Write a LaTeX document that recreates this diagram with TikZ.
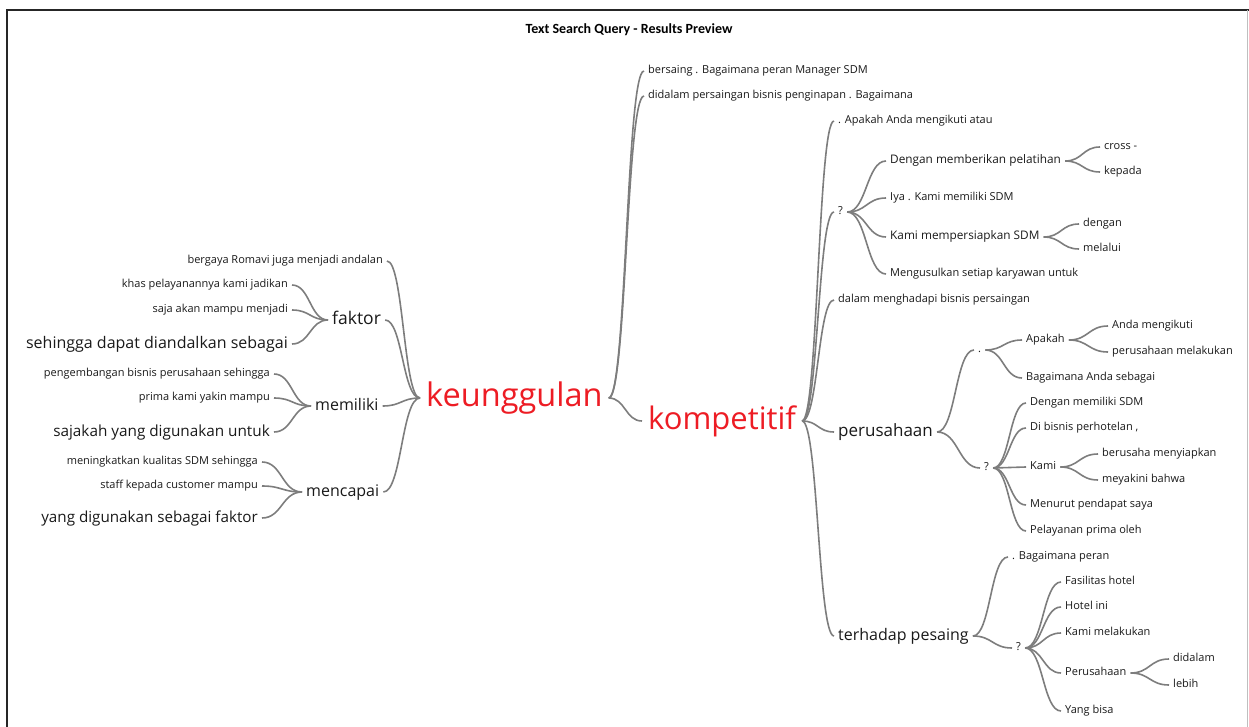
\documentclass[tikz,border=0pt]{standalone}
\usepackage{fontspec}
\setmainfont{Open Sans}
\newfontfamily\headfont{Carlito}
\usetikzlibrary{calc}
\definecolor{keyred}{RGB}{237,28,36}
\definecolor{twiggray}{RGB}{125,125,125}
\definecolor{inkgray}{RGB}{25,25,25}

\begin{document}
\begin{tikzpicture}[x=1pt, y=-1pt,
    word/.style={inner xsep=4pt, inner ysep=0pt, text=inkgray,
        font=\fontsize{11}{13}\selectfont, text height=8pt, text depth=2.2pt},
    rword/.style={word, anchor=west},
    lword/.style={word, anchor=east},
    wide/.style={font=\fontsize{11.8}{14}\selectfont},
    mid/.style={font=\fontsize{16}{19}\selectfont, text height=12pt, text depth=3.5pt},
    big/.style={font=\fontsize{32.5}{38}\selectfont, text height=24pt, text depth=7pt,
        text=keyred, inner xsep=6pt},
    twig/.style={draw=twiggray, line width=1.6pt,
        to path={let \p1=(\tikztostart), \p2=(\tikztotarget) in
            .. controls ({(\x1+\x2)/2},\y1) and ({(\x1+\x2)/2},\y2) .. (\tikztotarget)}}
]
    \useasboundingbox (0,0) rectangle (1249,727);
    \draw[line width=2.2pt, black!85] (7,727) -- (7,10) -- (1249,10);
    \draw[black!25] (1247,10) -- (1247,727);
    \node[font=\headfont\bfseries\fontsize{14}{16}\selectfont] (title) at (629,30)
        {Text Search Query - Results Preview};

    % left side
    \node[lword] (b1) at (387,261) {bergaya Romavi juga menjadi andalan};
    \node[lword] (f1) at (292,285) {khas pelayanannya kami jadikan};
    \node[lword] (f2) at (292,310) {saja akan mampu menjadi};
    \node[lword,mid] (f3) at (292,344) {sehingga dapat diandalkan sebagai};
    \node[rword,mid,font=\fontsize{17.5}{20}\selectfont] (fk) at (328,320) {faktor};
    \node[lword] (m1) at (274,374) {pengembangan bisnis perusahaan sehingga};
    \node[lword] (m2) at (274,398) {prima kami yakin mampu};
    \node[lword,mid,font=\fontsize{15.3}{18}\selectfont] (m3) at (274,432) {sajakah yang digunakan untuk};
    \node[rword,mid] (mm) at (311,406) {memiliki};
    \node[lword] (c1) at (262,462) {meningkatkan kualitas SDM sehingga};
    \node[lword] (c2) at (262,486) {staff kepada customer mampu};
    \node[lword,mid,font=\fontsize{15.2}{18}\selectfont] (c3) at (262,518) {yang digunakan sebagai faktor};
    \node[rword,mid] (mc) at (302,492) {mencapai};
    \node[rword,big] (kg) at (420,398) {keunggulan};

    % middle
    \node[rword] (k1) at (644,71) {bersaing . Bagaimana peran Manager SDM};
    \node[rword] (k2) at (644,96) {didalam persaingan bisnis penginapan . Bagaimana};
    \node[rword,big,font=\fontsize{31}{36}\selectfont] (kp) at (642,421) {kompetitif};

    % right side
    \node[rword] (p1) at (834,121) {. Apakah Anda mengikuti atau};
    \node[rword] (q1) at (834,212) {?};
    \node[rword] (p2) at (834,300) {dalam menghadapi bisnis persaingan};
    \node[rword,mid,font=\fontsize{17}{20}\selectfont] (ph) at (834,432) {perusahaan};
    \node[rword,mid] (tp) at (834,636) {terhadap pesaing};

    \node[rword,wide] (qa) at (886,161) {Dengan memberikan pelatihan};
    \node[rword] (qa1) at (1100,147) {cross -};
    \node[rword] (qa2) at (1100,172) {kepada};
    \node[rword] (qb) at (886,198) {Iya . Kami memiliki SDM};
    \node[rword,wide] (qc) at (886,237) {Kami mempersiapkan SDM};
    \node[rword] (qc1) at (1079,224) {dengan};
    \node[rword] (qc2) at (1079,249) {melalui};
    \node[rword] (qd) at (886,274) {Mengusulkan setiap karyawan untuk};

    \node[rword] (d1) at (974,350) {.};
    \node[rword] (da) at (1022,340) {Apakah};
    \node[rword] (da1) at (1108,326) {Anda mengikuti};
    \node[rword] (da2) at (1108,352) {perusahaan melakukan};
    \node[rword] (db) at (1022,378) {Bagaimana Anda sebagai};
    \node[rword] (q2) at (980,468) {?};
    \node[rword] (ea) at (1026,403) {Dengan memiliki SDM};
    \node[rword] (eb) at (1026,428) {Di bisnis perhotelan ,};
    \node[rword] (ec) at (1026,467) {Kami};
    \node[rword] (ec1) at (1098,454) {berusaha menyiapkan};
    \node[rword] (ec2) at (1098,480) {meyakini bahwa};
    \node[rword] (ed) at (1026,505) {Menurut pendapat saya};
    \node[rword] (ee) at (1026,531) {Pelayanan prima oleh};

    \node[rword] (t1) at (1008,557) {. Bagaimana peran};
    \node[rword] (q3) at (1012,648) {?};
    \node[rword] (ga) at (1061,582) {Fasilitas hotel};
    \node[rword] (gb) at (1061,607) {Hotel ini};
    \node[rword] (gc) at (1061,633) {Kami melakukan};
    \node[rword] (gd) at (1061,673) {Perusahaan};
    \node[rword] (gd1) at (1169,659) {didalam};
    \node[rword] (gd2) at (1169,685) {lebih};
    \node[rword] (ge) at (1061,711) {Yang bisa};

    \foreach \c in {b1,fk,mm,mc} \draw[twig] (\c.east) to (kg.west);
    \foreach \c in {f1,f2,f3} \draw[twig] (\c.east) to (fk.west);
    \foreach \c in {m1,m2,m3} \draw[twig] (\c.east) to (mm.west);
    \foreach \c in {c1,c2,c3} \draw[twig] (\c.east) to (mc.west);
    \foreach \c in {k1,k2,kp} \draw[twig] (kg.east) to (\c.west);
    \foreach \c in {p1,q1,p2,ph,tp} \draw[twig] (kp.east) to (\c.west);
    \foreach \c in {qa,qb,qc,qd} \draw[twig] (q1.east) to (\c.west);
    \foreach \c in {qa1,qa2} \draw[twig] (qa.east) to (\c.west);
    \foreach \c in {qc1,qc2} \draw[twig] (qc.east) to (\c.west);
    \foreach \c in {d1,q2} \draw[twig] (ph.east) to (\c.west);
    \foreach \c in {da,db} \draw[twig] (d1.east) to (\c.west);
    \foreach \c in {da1,da2} \draw[twig] (da.east) to (\c.west);
    \foreach \c in {ea,eb,ec,ed,ee} \draw[twig] (q2.east) to (\c.west);
    \foreach \c in {ec1,ec2} \draw[twig] (ec.east) to (\c.west);
    \foreach \c in {t1,q3} \draw[twig] (tp.east) to (\c.west);
    \foreach \c in {ga,gb,gc,gd,ge} \draw[twig] (q3.east) to (\c.west);
    \foreach \c in {gd1,gd2} \draw[twig] (gd.east) to (\c.west);
\end{tikzpicture}
\end{document}
